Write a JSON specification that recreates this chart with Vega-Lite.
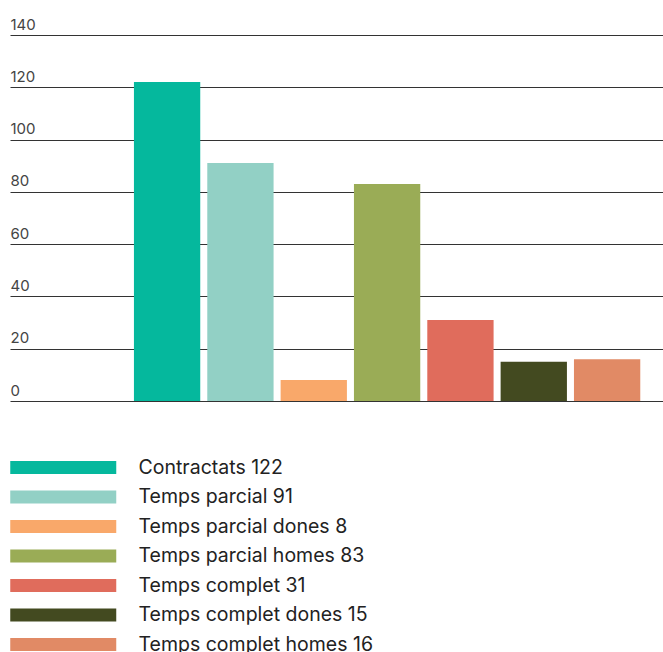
{
  "$schema": "https://vega.github.io/schema/vega-lite/v6.json",
  "autosize": "none",
  "width": 653,
  "height": 366,
  "padding": {"left": 10, "top": 35, "right": 0, "bottom": 251},
  "background": "white",
  "config": {"view": {"stroke": null}, "font": "Inter"},
  "data": {
    "values": [
      {"label": "Contractats 122", "value": 122},
      {"label": "Temps parcial 91", "value": 91},
      {"label": "Temps parcial dones 8", "value": 8},
      {"label": "Temps parcial homes 83", "value": 83},
      {"label": "Temps complet 31", "value": 31},
      {"label": "Temps complet dones 15", "value": 15},
      {"label": "Temps complet homes 16", "value": 16}
    ]
  },
  "mark": {"type": "bar"},
  "encoding": {
    "x": {
      "field": "label",
      "type": "nominal",
      "sort": null,
      "scale": {"paddingInner": 0.0959, "paddingOuter": 1.03, "align": 0.845},
      "axis": null
    },
    "y": {
      "field": "value",
      "type": "quantitative",
      "scale": {"domain": [0, 140]},
      "axis": {
        "title": null,
        "values": [0, 20, 40, 60, 80, 100, 120, 140],
        "domain": false,
        "ticks": false,
        "tickSize": 0,
        "labelPadding": 0,
        "labelAlign": "left",
        "labelBaseline": "bottom",
        "labelOffset": -3,
        "labelFontSize": 15,
        "labelColor": "#444444",
        "labelFont": "Inter",
        "grid": true,
        "gridColor": "#333333",
        "gridWidth": 1,
        "gridOpacity": 1
      }
    },
    "color": {
      "field": "label",
      "type": "nominal",
      "sort": null,
      "scale": {
        "domain": ["Contractats 122", "Temps parcial 91", "Temps parcial dones 8", "Temps parcial homes 83", "Temps complet 31", "Temps complet dones 15", "Temps complet homes 16"],
        "range": ["#05B89D", "#92D0C5", "#F9A86A", "#9AAC56", "#E06C5C", "#434A20", "#E18A65"]
      },
      "legend": {
        "title": null,
        "orient": "none",
        "legendX": 39.75,
        "legendY": 419,
        "padding": 0,
        "direction": "vertical",
        "symbolType": "M-4,-0.49H4V0.49H-4Z",
        "symbolSize": 702.25,
        "symbolStrokeWidth": 0,
        "symbolOpacity": 1,
        "labelOffset": 61.75,
        "labelFontSize": 19.5,
        "labelFont": "Inter",
        "labelColor": "#222222",
        "labelLimit": 500,
        "rowPadding": 6.5
      }
    }
  }
}
